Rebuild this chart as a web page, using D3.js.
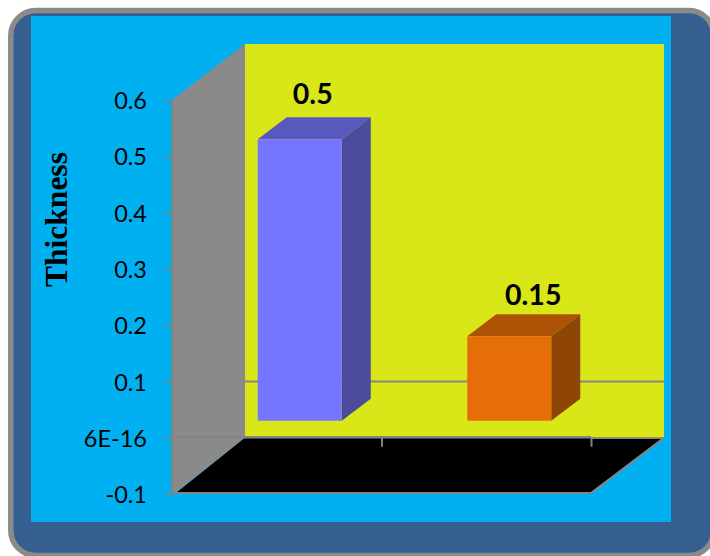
<!DOCTYPE html>
<html>
<head>
<meta charset="utf-8">
<script src="https://cdnjs.cloudflare.com/ajax/libs/d3/7.8.5/d3.min.js"></script>
<style>
  html, body { margin: 0; padding: 0; background: #fff; overflow: hidden; }
  svg { display: block; }
</style>
</head>
<body>
<svg id="chart" width="710" height="556"></svg>
<script>
// Series values and axis labels
const categories = ["First", "Second"];
const thickness = [0.5, 0.15];
const tickValues = [-0.1, 6e-16, 0.1, 0.2, 0.3, 0.4, 0.5, 0.6];
const tickLabels = ["-0.1", "6E-16", "0.1", "0.2", "0.3", "0.4", "0.5", "0.6"];
const barFront = ["#7575ff", "#e56e08"];
const barTop = ["#5858bf", "#ad5306"];
const barSide = ["#4c4c9f", "#8f4505"];

const svg = d3.select("#chart");

// Layout of the 3D box: front plane plus the offset to the back wall
const plot = { left: 172, right: 591, top: 100, bottom: 494 };
const depth = { dx: 73, dy: -56 };
const barPlane = { dx: 23, dy: -17 };     // where the bars stand inside the box
const barDepth = { dx: 29, dy: -22 };
const barWidth = 84;

const y = d3.scaleLinear().domain([-0.1, 0.6]).range([plot.bottom, plot.top]);
const x = d3.scaleBand().domain(categories).range([plot.left, plot.right]);

const poly = pts => pts.map(p => p.join(",")).join(" ");
const gridGrey = "#858585";

// Slide panel behind the chart
svg.append("rect")
  .attr("x", 10.8).attr("y", 10.5).attr("width", 703).attr("height", 545)
  .attr("rx", 25).attr("fill", "#355f8f").attr("stroke", "#8a8a8a").attr("stroke-width", 5.5);
svg.append("rect")
  .attr("x", 31).attr("y", 16).attr("width", 640).attr("height", 506).attr("fill", "#00b0f0");

const floorY = y(6e-16);
const topY = plot.top + depth.dy;

// Back wall
svg.append("rect")
  .attr("x", plot.left + depth.dx).attr("y", topY)
  .attr("width", plot.right - plot.left).attr("height", floorY - topY + 1)
  .attr("fill", "#d9e618");

// Side wall
svg.append("polygon")
  .attr("points", poly([
    [plot.left, plot.top],
    [plot.left + depth.dx, topY],
    [plot.left + depth.dx, floorY],
    [plot.left + 2, plot.bottom],
    [plot.left, plot.bottom]
  ]))
  .attr("fill", "#8a8a8a");
svg.append("line")
  .attr("x1", plot.left).attr("x2", plot.left)
  .attr("y1", plot.top).attr("y2", plot.bottom)
  .attr("stroke", "#7f7f7f").attr("stroke-width", 1.5);

// Floor
svg.append("polygon")
  .attr("points", poly([
    [plot.left + 4, plot.bottom - 1],
    [plot.left + depth.dx, floorY],
    [plot.right + depth.dx, floorY],
    [plot.right, plot.bottom - 1]
  ]))
  .attr("fill", "#000");
svg.append("polyline")
  .attr("points", poly([
    [plot.left, plot.bottom - 1],
    [plot.right, plot.bottom - 1],
    [plot.right + depth.dx, floorY]
  ]))
  .attr("fill", "none").attr("stroke", gridGrey).attr("stroke-width", 2);

// Horizontal rules on the walls
svg.append("line")
  .attr("x1", plot.left + depth.dx).attr("x2", plot.right + depth.dx)
  .attr("y1", y(0.1)).attr("y2", y(0.1))
  .attr("stroke", gridGrey).attr("stroke-width", 2);
svg.append("line")
  .attr("x1", plot.left).attr("x2", plot.right)
  .attr("y1", floorY - 0.5).attr("y2", floorY - 0.5)
  .attr("stroke", gridGrey).attr("stroke-width", 2.5);
svg.append("line")
  .attr("x1", plot.right).attr("x2", plot.right + depth.dx)
  .attr("y1", floorY + 0.5).attr("y2", floorY + 0.5)
  .attr("stroke", gridGrey).attr("stroke-width", 1.5);

// Category ticks along the back edge of the floor
svg.append("g").selectAll("line")
  .data(categories)
  .join("line")
  .attr("x1", d => x(d) + x.bandwidth() + 0.5)
  .attr("x2", d => x(d) + x.bandwidth() + 0.5)
  .attr("y1", floorY).attr("y2", floorY + 9)
  .attr("stroke", gridGrey).attr("stroke-width", 2);

// Value axis on the front edge of the side wall
const axis = d3.axisLeft(y)
  .tickValues(tickValues)
  .tickSize(7)
  .tickPadding(18)
  .tickFormat((d, i) => tickLabels[i]);
const axisG = svg.append("g")
  .attr("transform", `translate(${plot.left},0)`)
  .call(axis);
axisG.select(".domain").remove();
axisG.selectAll("line").attr("stroke", "#8a7f7a").attr("stroke-width", 1.5);
axisG.selectAll("text")
  .attr("dy", "0.37em")
  .attr("font-family", "Lato, sans-serif")
  .attr("font-size", 23.5)
  .attr("fill", "#000");

// Bars, each built from a front, top and side face
const bars = svg.append("g").selectAll("g")
  .data(categories.map((c, i) => ({ c, v: thickness[i], i })))
  .join("g");

const bx = d => x(d.c) + (x.bandwidth() - barWidth) / 2 + barPlane.dx;
const by = v => y(v) + barPlane.dy;

bars.append("polygon")
  .attr("points", d => poly([
    [bx(d), by(d.v)],
    [bx(d) + barDepth.dx, by(d.v) + barDepth.dy],
    [bx(d) + barWidth + barDepth.dx, by(d.v) + barDepth.dy],
    [bx(d) + barWidth, by(d.v)]
  ]))
  .attr("fill", d => barTop[d.i]);
bars.append("polygon")
  .attr("points", d => poly([
    [bx(d) + barWidth, by(d.v)],
    [bx(d) + barWidth + barDepth.dx, by(d.v) + barDepth.dy],
    [bx(d) + barWidth + barDepth.dx, by(0) + barDepth.dy],
    [bx(d) + barWidth, by(0)]
  ]))
  .attr("fill", d => barSide[d.i]);
bars.append("rect")
  .attr("x", bx)
  .attr("y", d => by(d.v))
  .attr("width", barWidth)
  .attr("height", d => by(0) - by(d.v))
  .attr("fill", d => barFront[d.i]);

// Value labels above the bars
bars.append("text")
  .attr("x", d => bx(d) + 55 + (d.i ? 11 : 0))
  .attr("y", d => by(d.v) + barDepth.dy - (d.i ? 9 : 13))
  .attr("text-anchor", "middle")
  .attr("font-family", "Lato, sans-serif")
  .attr("font-weight", 700)
  .attr("font-size", 28.5)
  .attr("fill", "#000")
  .text(d => d.v);

// Axis title
svg.append("text")
  .attr("transform", "translate(67,219.5) rotate(-90)")
  .attr("text-anchor", "middle")
  .attr("font-family", "'Liberation Serif', serif")
  .attr("font-weight", 700)
  .attr("font-size", 31.5)
  .attr("fill", "#000")
  .text("Thickness");
</script>
</body>
</html>
